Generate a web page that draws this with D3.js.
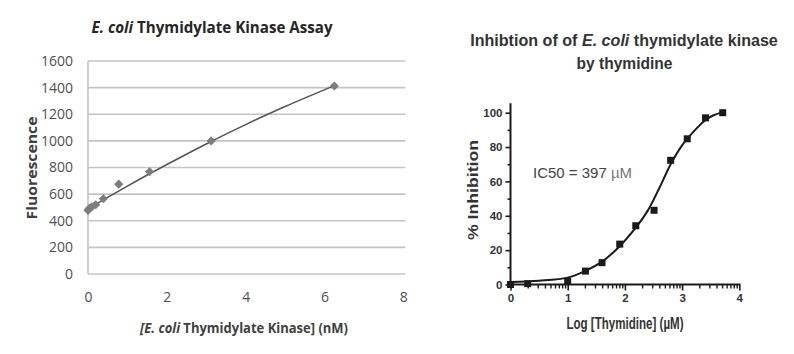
<!DOCTYPE html>
<html><head><meta charset="utf-8">
<script src="https://cdn.jsdelivr.net/npm/d3@7"></script>
<style>
html,body{margin:0;padding:0;background:#fff;}
svg{display:block;}
</style></head>
<body>
<svg id="c" width="794" height="354"></svg>
<script>
// ---- Left chart data: E. coli Thymidylate Kinase Assay ----
const leftConc = [0, 0.024, 0.049, 0.098, 0.195, 0.39, 0.78, 1.5625, 3.125, 6.25];
const leftFluor = [478, 488, 495, 505, 520, 565, 675, 768, 1000, 1412];
const trendConc = [0, 1, 2, 3, 4, 5, 6.25];
const trendFluor = [490, 660, 822, 977, 1122, 1258, 1415];
const leftYTicks = [0, 200, 400, 600, 800, 1000, 1200, 1400, 1600];
const leftXTicks = [0, 2, 4, 6, 8];

// ---- Right chart data: inhibition by thymidine ----
const logThy = [0, 0.3, 1.0, 1.31, 1.6, 1.91, 2.19, 2.51, 2.8, 3.09, 3.41, 3.71];
const inhib = [0, 0.5, 1.8, 7.8, 12.7, 23.5, 34.2, 43.2, 72.3, 84.8, 97, 100];
const fitLog = [0, 0.5, 1.0, 1.3, 1.6, 1.9, 2.2, 2.4, 2.6, 2.8, 3.0, 3.2, 3.4, 3.55, 3.72];
const fitInhib = [1.5, 2.2, 4, 7.8, 13.3, 22, 33.5, 43, 56, 70, 81, 89, 95.5, 98.5, 100.5];
const rightYTicks = [0, 20, 40, 60, 80, 100];
const rightYMinor = [10, 30, 50, 70, 90];
const rightXTicks = [0, 1, 2, 3, 4];

const svg = d3.select("#c");

// ================= LEFT CHART =================
const L = svg.append("g");
const xL = d3.scaleLinear().domain([0, 8]).range([88, 403.3]);
const yL = d3.scaleLinear().domain([0, 1600]).range([274, 61]);
const fontL = "'Open Sans', Lato, sans-serif";

// gridlines
L.append("g").selectAll("line").data(leftYTicks).join("line")
  .attr("x1", xL(0)).attr("x2", xL(8) + 2)
  .attr("y1", d => yL(d)).attr("y2", d => yL(d))
  .attr("stroke", "#c4c4c4").attr("stroke-width", 1.6);

// y axis line
L.append("line").attr("x1", xL(0)).attr("x2", xL(0))
  .attr("y1", yL(0)).attr("y2", yL(1600))
  .attr("stroke", "#c4c4c4").attr("stroke-width", 1.6);

const yAxL = L.append("g").attr("transform", `translate(${xL(0)},0)`)
  .call(d3.axisLeft(yL).tickValues(leftYTicks).tickSize(0).tickPadding(15).tickFormat(d3.format("d")));
yAxL.select(".domain").remove();
yAxL.selectAll("text").attr("font-family", fontL).attr("font-size", 14).attr("fill", "#505050");

const xAxL = L.append("g").attr("transform", `translate(0,${yL(0)})`)
  .call(d3.axisBottom(xL).tickValues(leftXTicks).tickSize(0).tickPadding(18).tickFormat(d3.format("d")));
xAxL.select(".domain").remove();
xAxL.selectAll("text").attr("font-family", fontL).attr("font-size", 14).attr("fill", "#505050");

// trend line
const trendData = trendConc.map((c, i) => [c, trendFluor[i]]);
L.append("path").datum(trendData)
  .attr("d", d3.line().x(d => xL(d[0])).y(d => yL(d[1])).curve(d3.curveNatural))
  .attr("fill", "none").attr("stroke", "#555").attr("stroke-width", 1.6);

// diamonds
L.append("g").selectAll("path").data(leftConc.map((c, i) => [c, leftFluor[i]])).join("path")
  .attr("d", d3.symbol().type(d3.symbolSquare).size(42))
  .attr("transform", d => `translate(${xL(d[0])},${yL(d[1])}) rotate(45)`)
  .attr("fill", "#7d7d7d");

// titles
const tL = L.append("text").attr("x", 212).attr("y", 33).attr("text-anchor", "middle")
  .attr("font-family", fontL).attr("font-size", 16).attr("font-weight", "bold").attr("fill", "#262626")
  .attr("textLength", 241).attr("lengthAdjust", "spacingAndGlyphs");
tL.append("tspan").attr("font-style", "italic").text("E. coli");
tL.append("tspan").text(" Thymidylate Kinase Assay");

const xtL = L.append("text").attr("x", 244).attr("y", 333).attr("text-anchor", "middle")
  .attr("font-family", fontL).attr("font-size", 14).attr("font-weight", "bold").attr("fill", "#404040")
  .attr("textLength", 208).attr("lengthAdjust", "spacingAndGlyphs");
xtL.append("tspan").attr("font-style", "italic").text("[E. coli");
xtL.append("tspan").text(" Thymidylate Kinase] (nM)");

L.append("text").attr("transform", "translate(37,168) rotate(-90)").attr("text-anchor", "middle")
  .attr("font-family", fontL).attr("font-size", 14).attr("font-weight", "bold").attr("fill", "#404040")
  .attr("textLength", 103).attr("lengthAdjust", "spacingAndGlyphs")
  .text("Fluorescence");

// ================= RIGHT CHART =================
const R = svg.append("g");
const xR = d3.scaleLinear().domain([0, 4]).range([510.5, 739.3]);
const yR = d3.scaleLinear().domain([0, 100]).range([284.5, 112.7]);
const fontR = "'Liberation Sans', Arial, sans-serif";
const ink = "#1a1a1a";

// y axis
const yAxR = R.append("g").attr("transform", `translate(${xR(0)},0)`)
  .call(d3.axisLeft(yR).tickValues(rightYTicks).tickSize(5).tickPadding(3));
yAxR.select(".domain").remove();
yAxR.selectAll("line").attr("stroke", ink).attr("stroke-width", 1.6);
yAxR.selectAll("text").attr("font-family", fontR).attr("font-size", 11.5).attr("font-weight", "bold").attr("fill", "#333");
const yMinR = R.append("g").attr("transform", `translate(${xR(0)},0)`)
  .call(d3.axisLeft(yR).tickValues(rightYMinor).tickSize(3).tickFormat(""));
yMinR.select(".domain").remove();
yMinR.selectAll("line").attr("stroke", ink).attr("stroke-width", 1.6);

// x axis
const xMinorVals = [];
[0, 1, 2, 3].forEach(dec => { for (let k = 2; k <= 9; k++) xMinorVals.push(dec + Math.log10(k)); });
const xAxR = R.append("g").attr("transform", `translate(0,${yR(0)})`)
  .call(d3.axisBottom(xR).tickValues(rightXTicks).tickSize(6).tickPadding(3).tickFormat(d3.format("d")));
xAxR.select(".domain").remove();
xAxR.selectAll("line").attr("stroke", ink).attr("stroke-width", 1.6);
xAxR.selectAll("text").attr("font-family", fontR).attr("font-size", 11.5).attr("font-weight", "bold").attr("fill", "#333");
const xMinR = R.append("g").attr("transform", `translate(0,${yR(0)})`)
  .call(d3.axisBottom(xR).tickValues(xMinorVals).tickSize(4).tickFormat(""));
xMinR.select(".domain").remove();
xMinR.selectAll("line").attr("stroke", ink).attr("stroke-width", 1.4);

// axis lines
R.append("line").attr("x1", xR(0)).attr("x2", xR(0)).attr("y1", yR(0) + 1).attr("y2", yR(105.5))
  .attr("stroke", ink).attr("stroke-width", 2);
R.append("line").attr("x1", xR(0) - 1).attr("x2", xR(4) + 1).attr("y1", yR(0)).attr("y2", yR(0))
  .attr("stroke", ink).attr("stroke-width", 2.2);

// fit curve
const fitData = fitLog.map((x, i) => [x, fitInhib[i]]);
R.append("path").datum(fitData)
  .attr("d", d3.line().x(d => xR(d[0])).y(d => yR(d[1])).curve(d3.curveCatmullRom.alpha(0.5)))
  .attr("fill", "none").attr("stroke", ink).attr("stroke-width", 2);

// squares
R.append("g").selectAll("rect").data(logThy.map((x, i) => [x, inhib[i]])).join("rect")
  .attr("x", d => xR(d[0]) - 3.5).attr("y", d => yR(d[1]) - 3.5)
  .attr("width", 7).attr("height", 7).attr("fill", ink);

// annotation
const ann = R.append("text").attr("x", 533).attr("y", 178)
  .attr("font-family", fontR).attr("font-size", 15).attr("fill", "#444")
  .attr("textLength", 99).attr("lengthAdjust", "spacingAndGlyphs");
ann.append("tspan").text("IC50 = 397 ");
ann.append("tspan").attr("fill", "#777").text("µM");

// titles
const t1 = R.append("text").attr("x", 624).attr("y", 46).attr("text-anchor", "middle")
  .attr("font-family", fontR).attr("font-size", 16.1).attr("font-weight", "bold").attr("fill", "#333");
t1.append("tspan").text("Inhibtion of of ");
t1.append("tspan").attr("font-style", "italic").text("E. coli");
t1.append("tspan").text(" thymidylate kinase");
R.append("text").attr("x", 624.5).attr("y", 69).attr("text-anchor", "middle")
  .attr("font-family", fontR).attr("font-size", 17).attr("font-weight", "bold").attr("fill", "#333")
  .attr("textLength", 96).attr("lengthAdjust", "spacingAndGlyphs")
  .text("by thymidine");

R.append("text").attr("x", 625).attr("y", 329).attr("text-anchor", "middle")
  .attr("font-family", fontR).attr("font-size", 16).attr("font-weight", "bold").attr("fill", "#333")
  .attr("textLength", 117).attr("lengthAdjust", "spacingAndGlyphs")
  .text("Log [Thymidine] (µM)");

R.append("text").attr("transform", "translate(478,190) rotate(-90)").attr("text-anchor", "middle")
  .attr("font-family", fontR).attr("font-size", 15).attr("font-weight", "bold").attr("fill", "#333")
  .attr("textLength", 100).attr("lengthAdjust", "spacingAndGlyphs")
  .text("% Inhibition");
</script>
</body></html>
